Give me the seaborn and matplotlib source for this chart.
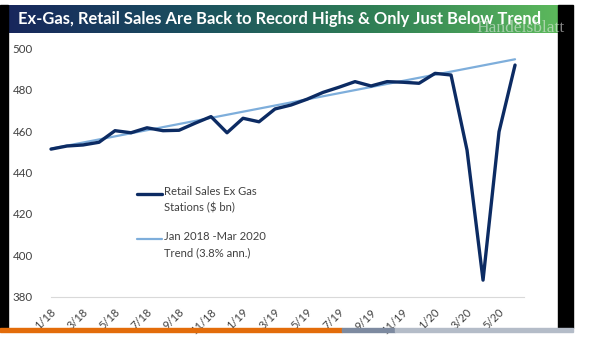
import numpy as np
import pandas as pd
import matplotlib
matplotlib.use("Agg")
import matplotlib.pyplot as plt
import matplotlib.transforms as mtransforms
from matplotlib.colors import LinearSegmentedColormap
from matplotlib.lines import Line2D
from matplotlib.patches import Rectangle
import seaborn as sns

# ---------------- data ----------------
month_labels = ["1/18", "2/18", "3/18", "4/18", "5/18", "6/18", "7/18", "8/18", "9/18", "10/18",
                "11/18", "12/18", "1/19", "2/19", "3/19", "4/19", "5/19", "6/19", "7/19", "8/19",
                "9/19", "10/19", "11/19", "12/19", "1/20", "2/20", "3/20", "4/20", "5/20", "6/20"]
retail_sales = [451.3, 452.8, 453.3, 454.6, 460.2, 459.2, 461.6, 460.2, 460.4, 463.8,
                467.0, 459.2, 466.2, 464.5, 470.7, 472.6, 475.4, 478.7, 481.2, 483.9,
                481.8, 483.9, 483.6, 483.1, 487.9, 487.1, 450.8, 388.0, 459.7, 491.9]
trend_months = ["1/18", "6/20"]
trend_values = [451.5, 494.7]
tick_labels = ["1/18", "3/18", "5/18", "7/18", "9/18", "11/18", "1/19", "3/19",
               "5/19", "7/19", "9/19", "11/19", "1/20", "3/20", "5/20"]
yticks = [380, 400, 420, 440, 460, 480, 500]

title = "Ex-Gas, Retail Sales Are Back to Record Highs & Only Just Below Trend"
legend_retail = "Retail Sales Ex Gas\nStations ($ bn)"
legend_trend = "Jan 2018 -Mar 2020\nTrend (3.8% ann.)"

pos = {m: i for i, m in enumerate(month_labels)}
df = pd.DataFrame({"x": [pos[m] for m in month_labels], "value": retail_sales})
dft = pd.DataFrame({"x": [pos[m] for m in trend_months], "value": trend_values})

# ---------------- style ----------------
sns.set_theme(style="white")
plt.rcParams["font.family"] = ["Lato", "DejaVu Sans"]

W, H = 590, 338
fig = plt.figure(figsize=(W / 100, H / 100), dpi=100)
fig.patch.set_facecolor("white")

def fx(px):
    return px / W

def fy(py):
    return 1 - py / H

# main axes
ax = fig.add_axes([fx(51), fy(296.7), fx(524) - fx(51), fy(48.3) - fy(296.7)])
ax.set_facecolor("white")

navy = "#0c2b63"
lightblue = "#7eaedb"

sns.lineplot(data=dft, x="x", y="value", ax=ax, color=lightblue, linewidth=1.6, clip_on=False)
sns.lineplot(data=df, x="x", y="value", ax=ax, color=navy, linewidth=2.4, clip_on=False)

ax.set_xlim(0, 29.56)
ax.set_ylim(380, 500)
ax.set_xlabel("")
ax.set_ylabel("")

for s in ["top", "right", "left"]:
    ax.spines[s].set_visible(False)
ax.spines["bottom"].set_color("#d9d9d9")
ax.spines["bottom"].set_linewidth(0.8)

ax.set_yticks(yticks)
ax.set_yticklabels([str(v) for v in yticks])
ax.tick_params(axis="y", length=0, pad=13, labelsize=8.3, labelcolor="#404040")

tick_pos = [pos[t] for t in tick_labels]
ax.set_xticks(tick_pos)
ax.set_xticklabels(tick_labels, rotation=45, ha="right", va="center", rotation_mode="anchor")
ax.tick_params(axis="x", length=3, width=0.8, color="#d9d9d9", direction="out",
               pad=7, labelsize=8, labelcolor="#404040")
offset = mtransforms.ScaledTranslation(3 / 100, 0, fig.dpi_scale_trans)
for lab in ax.get_xticklabels():
    lab.set_transform(lab.get_transform() + offset)

# manual legend (handle aligned with first text line, as in the original)
leg_items = [(legend_retail, navy, 2.4, 194), (legend_trend, lightblue, 1.6, 239)]
for text, col, lw, py in leg_items:
    fig.add_artist(Line2D([fx(137), fx(162)], [fy(py), fy(py)], color=col, lw=lw))
    fig.text(fx(164), fy(py - 8), text, fontsize=8.1, color="#404040",
             ha="left", va="top", linespacing=1.55)

# title banner with gradient
bax = fig.add_axes([fx(8), fy(33), fx(558) - fx(8), fy(5) - fy(33)])
cmap = LinearSegmentedColormap.from_list("banner", ["#17275c", "#1b4f5f", "#2f7f55", "#5cb85c"])
bax.imshow(np.linspace(0, 1, 256).reshape(1, -1), aspect="auto", cmap=cmap,
           extent=[0, 1, 0, 1])
bax.set_axis_off()
bax.text(0.019, 0.5, title, color="white", fontsize=11.9, fontweight="bold",
         ha="left", va="center", transform=bax.transAxes)
fig.text(fx(521), fy(28), "Handelsblatt", family=["Liberation Serif", "DejaVu Serif"],
         fontsize=12.5, color="#f0f0f0", alpha=0.55, ha="center", va="center")

# black side strips and bottom progress bar (screenshot frame)
fig.add_artist(Rectangle((0, fy(328)), fx(8), fy(5) - fy(328), color="black",
                         transform=fig.transFigure))
fig.add_artist(Rectangle((fx(558), fy(328)), fx(573) - fx(558), fy(5) - fy(328),
                         color="black", transform=fig.transFigure))
fig.add_artist(Rectangle((0, fy(332)), fx(342), fy(328) - fy(332), color="#e36c0a",
                         transform=fig.transFigure, zorder=5))
fig.add_artist(Rectangle((fx(342), fy(332)), fx(395) - fx(342), fy(328) - fy(332),
                         color="#7d8aa0", transform=fig.transFigure, zorder=5))
fig.add_artist(Rectangle((fx(395), fy(332)), fx(573) - fx(395), fy(328) - fy(332),
                         color="#b4bcc8", transform=fig.transFigure, zorder=5))

fig.savefig("out.png", dpi=100)
